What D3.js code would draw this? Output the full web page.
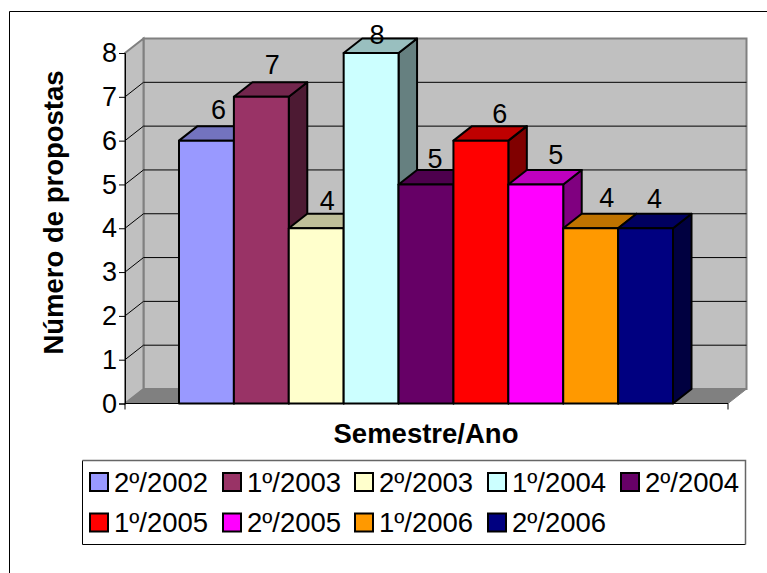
<!DOCTYPE html>
<html>
<head>
<meta charset="utf-8">
<script src="https://cdn.jsdelivr.net/npm/d3@7"></script>
<style>
  html, body { margin: 0; padding: 0; background: #fff; }
  text { font-family: "Liberation Sans", Arial, sans-serif; fill: #000; }
</style>
</head>
<body>
<svg id="chart" width="767" height="573"></svg>
<script>
const semesters = ['2º/2002', '1º/2003', '2º/2003', '1º/2004', '2º/2004', '1º/2005', '2º/2005', '1º/2006', '2º/2006'];
const proposals = [6, 7, 4, 8, 5, 6, 5, 4, 4];
const barColors = ['#9999ff', '#993366', '#ffffcc', '#ccffff', '#660066', '#ff0000', '#ff00ff', '#ff9900', '#000080'];
const yTicks = [0, 1, 2, 3, 4, 5, 6, 7, 8];

// data labels in the picture do not sit at a constant spot over the bars
const labelNudge = [[12, -22], [11, -23], [11, -18], [6, -9], [9, -16], [19, -18], [20, -20], [16, -21], [9, -20]];

const depthX = 18.5, depthY = 14.5;
const left = 125, right = 728;
const svg = d3.select('#chart');

const y = d3.scaleLinear().domain([0, 8]).range([403.5, 53]);
const x = d3.scaleBand().domain(semesters).range([179, 673]);
const poly = pts => pts.map(p => p.join(',')).join(' ');
const shade = (col, k) => { const c = d3.rgb(col); return d3.rgb(c.r * k, c.g * k, c.b * k).formatHex(); };

// outer frame, only top and left fall inside the picture
svg.append('path').attr('d', 'M9.5,573V11.5H767')
  .attr('fill', 'none').attr('stroke', '#000').attr('stroke-width', 1);

// walls
svg.append('polygon')
  .attr('points', poly([[left + depthX, y(8) - depthY], [right + depthX, y(8) - depthY], [right + depthX, y(0) - depthY], [left + depthX, y(0) - depthY]]))
  .attr('fill', '#c0c0c0').attr('stroke', '#808080').attr('stroke-width', 2);
svg.append('polygon')
  .attr('points', poly([[left, y(8)], [left + depthX, y(8) - depthY], [left + depthX, y(0) - depthY], [left, y(0)]]))
  .attr('fill', '#c0c0c0').attr('stroke', '#808080').attr('stroke-width', 2);
svg.append('polygon')
  .attr('points', poly([[left, y(0)], [left + depthX, y(0) - depthY], [right + depthX, y(0) - depthY], [right, y(0)]]))
  .attr('fill', '#808080').attr('stroke', '#808080').attr('stroke-width', 1);

// gridlines, back wall and side wall
svg.append('g').selectAll('path').data(yTicks.slice(1, 8)).join('path')
  .attr('d', d => `M${left},${y(d)}L${left + depthX},${y(d) - depthY}L${right + depthX},${y(d) - depthY}`)
  .attr('fill', 'none').attr('stroke', '#000').attr('stroke-width', 1);

// axes
const yAxis = svg.append('g').attr('transform', `translate(${left},0)`)
  .call(d3.axisLeft(y).tickValues(yTicks).tickSize(6).tickPadding(2));
yAxis.selectAll('text').attr('font-size', 27);
yAxis.selectAll('line, path').attr('stroke', '#000');
svg.append('path').attr('d', `M${left},${y(0)}H${right}M${left},${y(0)}v6M${right},${y(0)}v6`)
  .attr('fill', 'none').attr('stroke', '#000');

// bars, painted left to right so each front covers the previous side
const bars = svg.append('g').selectAll('g').data(semesters).join('g');
bars.each(function (s, i) {
  const g = d3.select(this);
  const x0 = x(s), x1 = x0 + x.bandwidth(), top = y(proposals[i]), base = y(0);
  const faces = [
    { pts: [[x1, top], [x1 + depthX, top - depthY], [x1 + depthX, base - depthY], [x1, base]], fill: shade(barColors[i], 0.5) },
    { pts: [[x0, top], [x0 + depthX, top - depthY], [x1 + depthX, top - depthY], [x1, top]], fill: shade(barColors[i], 0.75) },
    { pts: [[x0, top], [x1, top], [x1, base], [x0, base]], fill: barColors[i] }
  ];
  g.selectAll('polygon').data(faces).join('polygon')
    .attr('points', f => poly(f.pts)).attr('fill', f => f.fill)
    .attr('stroke', '#000').attr('stroke-width', 2).attr('stroke-linejoin', 'round');
});

// data labels
svg.append('g').selectAll('text').data(semesters).join('text')
  .attr('x', (s, i) => x(s) + x.bandwidth() / 2 + labelNudge[i][0])
  .attr('y', (s, i) => y(proposals[i]) + labelNudge[i][1])
  .attr('text-anchor', 'middle').attr('font-size', 27)
  .text((s, i) => proposals[i]);

// axis titles
svg.append('text').attr('x', 426).attr('y', 443).attr('text-anchor', 'middle')
  .attr('font-size', 27.5).attr('font-weight', 'bold').text('Semestre/Ano');
svg.append('text').attr('transform', 'translate(62.5,212.5) rotate(-90)').attr('text-anchor', 'middle')
  .attr('font-size', 27.5).attr('font-weight', 'bold').text('Número de propostas');

// legend, lit from the lower left so top and right edges read grey
svg.append('rect').attr('x', 82.5).attr('y', 460.5).attr('width', 663).attr('height', 84)
  .attr('fill', '#fff').attr('stroke', 'none');
svg.append('path').attr('d', 'M82.5,460.5V544.5H745.5')
  .attr('fill', 'none').attr('stroke', '#000').attr('stroke-width', 1);
svg.append('path').attr('d', 'M82.5,460.5H745.5V544.5')
  .attr('fill', 'none').attr('stroke', '#666').attr('stroke-width', 1.5);
const legendX = [90, 223, 355, 488, 621];
const legendY = [481.5, 522];
const legend = svg.append('g').selectAll('g').data(semesters).join('g')
  .attr('transform', (s, i) => `translate(${legendX[i % 5]},${legendY[Math.floor(i / 5)]})`);
legend.append('rect').attr('y', -8.5).attr('width', 18).attr('height', 18)
  .attr('fill', (s, i) => barColors[i]).attr('stroke', '#000').attr('stroke-width', 2);
legend.append('text').attr('x', 24).attr('y', 10).attr('font-size', 27.5).text(s => s);
</script>
</body>
</html>
